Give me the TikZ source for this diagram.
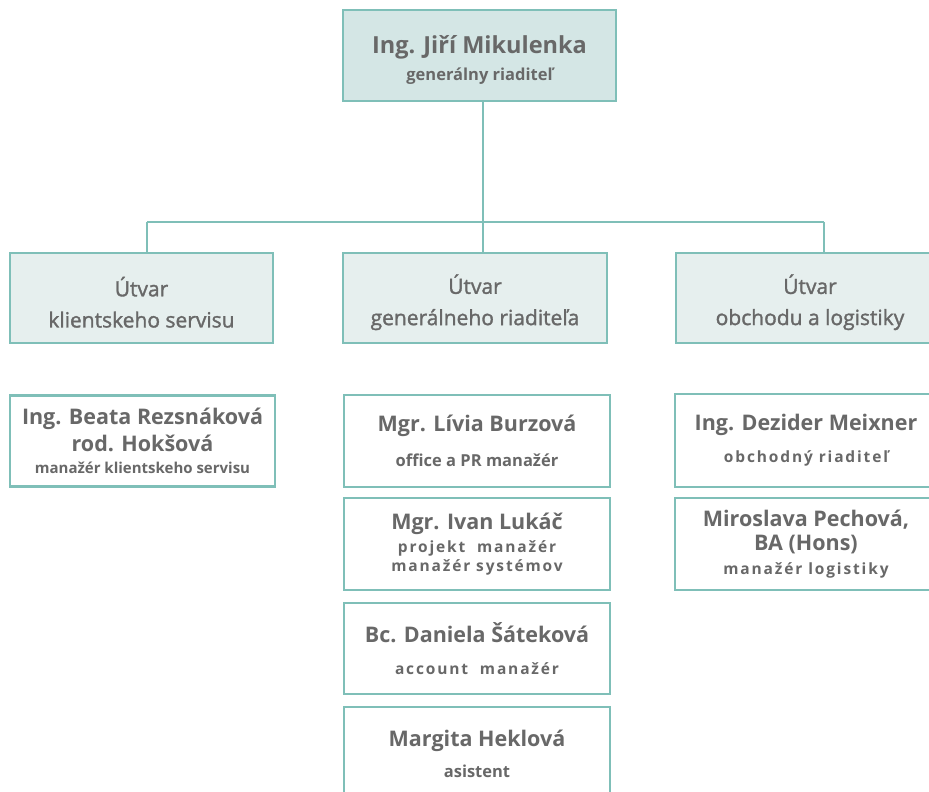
\documentclass[tikz,border=0pt]{standalone}
\usepackage{fontspec}
\setmainfont{Open Sans}
\definecolor{edge}{HTML}{7FBFB8}
\definecolor{ink}{HTML}{686868}
\definecolor{ceofill}{HTML}{D4E6E5}
\definecolor{deptfill}{HTML}{E6EFEE}
\newcommand\nm[1]{{\fontsize{21.5}{24}\selectfont #1}}
\newcommand\fn[1]{{\fontsize{16.5}{18}\selectfont #1}}
\newcommand\fns[1]{{\fontsize{15.5}{18}\selectfont\addfontfeature{LetterSpace=12}#1}}
\newcommand\dpt[1]{{\fontsize{21}{24}\selectfont\mdseries\addfontfeature{FakeBold=1.5}#1}}

\begin{document}
\begin{tikzpicture}[x=1pt,y=-1pt,
  box/.style={draw=edge, line width=2.5pt, text=ink, align=center, font=\bfseries, inner sep=0pt},
  ceobox/.style={box, fill=ceofill, minimum width=273pt, minimum height=91pt},
  deptbox/.style={box, fill=deptfill, minimum width=264pt, minimum height=90pt},
  personbox/.style={box, fill=white, minimum width=266pt, minimum height=92pt},
  link/.style={draw=edge, line width=2pt}]

\clip (0,0) rectangle (929,792);

% riaditel
\node[ceobox] (ceo) at (479.5,55.5)
  {\rule{0pt}{27pt}{\fontsize{23.5}{26}\selectfont Ing. Jiří Mikulenka}\\[8pt]\fn{generálny riaditeľ}};

% utvary
\node[deptbox, minimum width=263pt] (klient) at (141.5,298) {\rule{0pt}{28pt}\dpt{Útvar}\\[14pt]\dpt{klientskeho servisu}};
\node[deptbox] (grd) at (475,298) {\rule{0pt}{28pt}\dpt{Útvar}\\[14pt]\dpt{generálneho riaditeľa}};
\node[deptbox, minimum width=268pt] (obchod) at (810,298) {\rule{0pt}{28pt}\dpt{Útvar}\\[14pt]\dpt{obchodu a logistiky}};

% ludia
\node[personbox, minimum width=265pt, minimum height=91pt] (rezsnakova) at (142.5,441)
  {\nm{Ing. Beata Rezsnáková}\\[4pt]\nm{rod. Hokšová}\\[10pt]{\fontsize{15}{18}\selectfont manažér klientskeho servisu}};

\node[personbox] (burzova) at (477,441) {\nm{Mgr. Lívia Burzová}\\[16pt]\fn{office a PR manažér}};
\node[personbox] (lukac) at (477,544) {\nm{Mgr. Ivan Lukáč}\\[5pt]\fns{projekt\ \ manažér}\\[2pt]\fns{manažér systémov}};
\node[personbox, minimum height=91pt] (satekova) at (477,648.5) {\nm{Bc. Daniela Šáteková}\\[19pt]\fns{account\ \ manažér}};
\node[personbox, minimum height=94pt] (heklova) at (477,754) {\nm{Margita Heklová}\\[12pt]\fn{asistent}};

\node[personbox, minimum width=262pt, minimum height=93pt] (meixner) at (806,440.5)
  {\nm{Ing. Dezider Meixner}\\[14pt]\fns{obchodný\ riaditeľ}};
\node[personbox, minimum width=262pt] (pechova) at (806,544)
  {\nm{Miroslava Pechová,}\\[5pt]\nm{BA (Hons)}\\[7pt]\fns{manažér\ logistiky}};

% spojnice
\coordinate (bus) at (483,222);
\coordinate (busL) at (147,222);
\coordinate (busR) at (824,222);
\draw[link] (ceo.south -| bus) -- (bus);
\draw[link] (busL) -- (busR);
\draw[link] (busL) -- (busL |- klient.north);
\draw[link] (bus) -- (bus |- grd.north);
\draw[link] (busR) -- (busR |- obchod.north);
\end{tikzpicture}
\end{document}
